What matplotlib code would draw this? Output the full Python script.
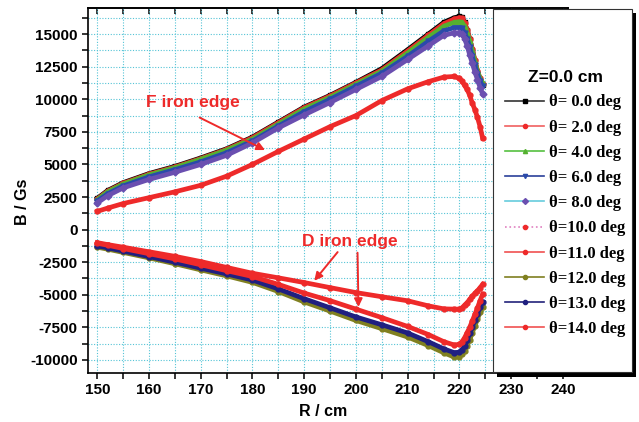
import matplotlib
matplotlib.use('Agg')
import matplotlib.pyplot as plt
from matplotlib.lines import Line2D
from matplotlib.patches import Rectangle
from matplotlib.ticker import MultipleLocator

# R positions (cm) shared by all curves
r_cm = [150, 152, 155, 160, 165, 170, 175, 180, 185, 190, 195, 200, 205, 210,
        214, 217, 219, 220, 220.5, 221, 221.5, 222, 222.5, 223, 223.5, 224, 224.5]

# B (Gs), one list per angle
b_th0 = [2400, 3000, 3600, 4300, 4850, 5500, 6200, 7100, 8250, 9400, 10300, 11300, 12350, 13800,
         15000, 15900, 16250, 16350, 16300, 15900, 15300, 14600, 13800, 12900, 12100, 11500, 11100]
b_th2 = [2350, 2950, 3550, 4250, 4800, 5450, 6150, 7050, 8200, 9350, 10250, 11250, 12250, 13700,
         14900, 15800, 16150, 16250, 16200, 15850, 15300, 14650, 13850, 13000, 12200, 11600, 11200]
b_th4 = [2300, 2900, 3500, 4200, 4750, 5400, 6100, 6950, 8100, 9250, 10150, 11150, 12150, 13550,
         14750, 15600, 15900, 15950, 15900, 15600, 15100, 14500, 13700, 12900, 12150, 11600, 11250]
b_th6 = [2200, 2750, 3350, 4050, 4600, 5200, 5900, 6800, 7950, 9050, 10000, 11000, 12000, 13300,
         14450, 15250, 15500, 15500, 15450, 15100, 14650, 14000, 13300, 12600, 11950, 11400, 11000]
b_th8 = [2050, 2600, 3200, 3850, 4400, 5000, 5700, 6650, 7800, 8800, 9750, 10750, 11750, 13050,
         14100, 14900, 15100, 15100, 15000, 14650, 14100, 13400, 12750, 12100, 11500, 10900, 10400]
b_th10 = [1400, 1650, 2000, 2450, 2900, 3400, 4100, 5000, 6000, 6950, 7900, 8750, 9900, 10800,
          11350, 11700, 11750, 11600, 11400, 11060, 10750, 10300, 9700, 9200, 8600, 7900, 7000]
b_th11 = [-1000, -1150, -1350, -1700, -2050, -2450, -2900, -3350, -3700, -4060, -4450, -4830, -5150, -5460,
          -5850, -6080, -6100, -6100, -6000, -5800, -5600, -5350, -5100, -4900, -4700, -4450, -4200]
b_th12 = [-1350, -1500, -1750, -2170, -2620, -3090, -3550, -4050, -4750, -5550, -6250, -6970, -7600, -8240,
          -8900, -9450, -9780, -9750, -9550, -9300, -8900, -8450, -7900, -7400, -6850, -6350, -5950]
b_th13 = [-1250, -1400, -1650, -2070, -2500, -2960, -3400, -3870, -4550, -5300, -6000, -6700, -7300, -7930,
          -8600, -9150, -9440, -9400, -9200, -8950, -8500, -7950, -7450, -6950, -6450, -5950, -5550]
b_th14 = [-1050, -1200, -1450, -1850, -2250, -2700, -3150, -3600, -4200, -4870, -5450, -6100, -6750, -7430,
          -8050, -8600, -8850, -8800, -8600, -8300, -7900, -7500, -7000, -6500, -6000, -5450, -4950]

labels = ['θ= 0.0 deg', 'θ= 2.0 deg', 'θ= 4.0 deg', 'θ= 6.0 deg', 'θ= 8.0 deg',
          'θ=10.0 deg', 'θ=11.0 deg', 'θ=12.0 deg', 'θ=13.0 deg', 'θ=14.0 deg']

red = '#ee2a2a'
# (data, line colour, marker colour, marker, legend line style)
series = [
    (b_th0, '#333333', '#000000', 's', '-'),
    (b_th2, '#f06060', red, 'o', '-'),
    (b_th4, '#55c040', '#55b030', '^', '-'),
    (b_th6, '#2a3f9a', '#2a4aaa', 'v', '-'),
    (b_th8, '#66ccdd', '#6a4fb0', 'D', '-'),
    (b_th10, '#e080c0', red, 'o', ':'),
    (b_th11, '#f05050', red, 'o', '-'),
    (b_th12, '#7f7f20', '#808020', 'o', '-'),
    (b_th13, '#22227a', '#202080', 'o', '-'),
    (b_th14, '#f05050', red, 'o', '-'),
]

plt.rcParams['font.family'] = ['Liberation Sans', 'DejaVu Sans']
plt.rcParams['axes.unicode_minus'] = False

fig = plt.figure(figsize=(6.39, 4.22), dpi=100)
ax = fig.add_axes([88/639, 1-373/422, 480/639, 365/422])

for data, lc, mc, mk, ls in series:
    ax.plot(r_cm, data, color=mc, lw=3.4, marker=mk, ms=3.5, mfc=mc, mec=mc, zorder=3)

ax.set_xlim(148.2, 241.0)
ax.set_ylim(-11000, 17000)
ax.xaxis.set_major_locator(MultipleLocator(10))
ax.xaxis.set_minor_locator(MultipleLocator(5))
ax.yaxis.set_major_locator(MultipleLocator(2500))
ax.yaxis.set_minor_locator(MultipleLocator(1250))
ax.grid(which='both', color='#55c4d6', linestyle=(0, (1, 1.5)), linewidth=0.8, zorder=0)
ax.set_axisbelow(True)
ax.tick_params(which='both', direction='out', length=4, width=1.1, labelsize=11)
for lab in ax.get_xticklabels() + ax.get_yticklabels():
    lab.set_fontweight('bold')
for sp in ax.spines.values():
    sp.set_linewidth(1.2)

top = ax.secondary_xaxis('top')
top.xaxis.set_major_locator(MultipleLocator(10))
top.xaxis.set_minor_locator(MultipleLocator(5))
top.tick_params(which='both', direction='in', length=4, width=1.1, labeltop=False)
top.spines['top'].set_linewidth(1.2)

ax.set_xlabel('R / cm', fontsize=11.5, fontweight='bold')
ax.set_ylabel('B / Gs', fontsize=11.5, fontweight='bold')
ax.xaxis.set_label_coords(0.49, -0.085)
ax.yaxis.set_label_coords(-0.12, 0.47)

# annotations
ax.text(159.5, 9760, 'F iron edge', color=red, fontsize=12.5, fontweight='bold', va='center')
ax.annotate('', xy=(182.9, 6010), xytext=(169.3, 8690),
            arrowprops=dict(arrowstyle='-|>', color=red, lw=1.4, mutation_scale=12))
ax.text(189.5, -950, 'D iron edge', color=red, fontsize=12.5, fontweight='bold', va='center')
ax.annotate('', xy=(191.6, -4090), xytext=(196.8, -1560),
            arrowprops=dict(arrowstyle='-|>', color=red, lw=1.4, mutation_scale=12))
ax.annotate('', xy=(200.5, -6150), xytext=(200.3, -1560),
            arrowprops=dict(arrowstyle='-|>', color=red, lw=1.4, mutation_scale=12))

# legend box with shadow, drawn in figure pixels
W, H = 639, 422
fig.patches.append(Rectangle((497/W, 1-377/H), 139/W, 364/H, transform=fig.transFigure,
                             facecolor='black', edgecolor='none', zorder=1))
fig.patches.append(Rectangle((493/W, 1-372/H), 139/W, 363/H, transform=fig.transFigure,
                             facecolor='white', edgecolor='#333333', lw=0.8, zorder=2))

handles = [Line2D([], [], color=lc, ls=ls, lw=1.2, marker=mk, ms=3, mfc=mc, mec=mc)
           for _, lc, mc, mk, ls in series]
leg = fig.legend(handles, labels, loc='upper left', bbox_to_anchor=(497/W, 1-62/H),
                 frameon=False, borderpad=0, handlelength=2.3, handletextpad=0.3,
                 labelspacing=0.55, title='Z=0.0 cm',
                 prop={'family': 'Liberation Serif', 'weight': 'bold', 'size': 12},
                 title_fontproperties={'family': 'Liberation Sans', 'weight': 'bold', 'size': 12.5})
leg.set_zorder(5)

fig.savefig('out.png', dpi=100)
